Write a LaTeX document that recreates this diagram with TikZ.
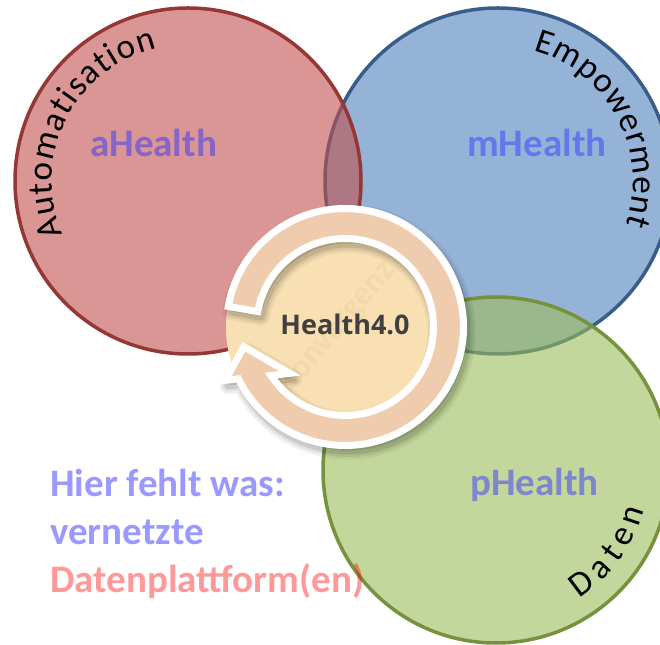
\documentclass[tikz,border=0pt]{standalone}
\usepackage{fontspec}
\newfontfamily\carlito{Carlito}
\newfontfamily\opensansf{Open Sans}
\usetikzlibrary{calc,decorations.text}
\definecolor{redfill}{HTML}{C0504D}
\definecolor{redline}{HTML}{953735}
\definecolor{bluefill}{HTML}{4F81BD}
\definecolor{blueline}{HTML}{385D8A}
\definecolor{greenfill}{HTML}{9BBB59}
\definecolor{greenline}{HTML}{76923C}
\definecolor{diskcol}{HTML}{F8E0B3}
\definecolor{bandcol}{HTML}{F0CCAE}
\definecolor{wmcol}{HTML}{F2D8AB}
\definecolor{acol}{HTML}{8764C8}
\definecolor{mcol}{HTML}{6478EB}
\definecolor{pcol}{HTML}{7D87CD}
\definecolor{hintblue}{HTML}{9999FF}
\definecolor{centertext}{HTML}{404040}
\newcommand\curvefont{\carlito\fontsize{35}{35}\selectfont}
\newcommand\bigfont{\carlito\bfseries\fontsize{39}{40}\selectfont}
\newcommand\ringshape{($(C)+(170:118.5pt)$) arc[start angle=170, end angle=-154, radius=118.5pt]
  -- ($(C)+(204:131pt)$) -- ($(C)+(191:103pt)$) -- ($(C)+(220:72pt)$)
  -- ($(C)+(-146.7:88.5pt)$) arc[start angle=-146.7, end angle=170, radius=88.5pt] -- cycle}
\tikzset{
  bigcircle/.style={circle, inner sep=0pt, minimum size=346pt, line width=3.5pt, fill opacity=0.6},
  fieldlabel/.style={anchor=base west, inner sep=0pt, font=\bigfont},
  curvetext/.style={decorate, decoration={text along path, text={|\curvefont|#1}, text align={fit to path}}}
}
\begin{document}
\begin{tikzpicture}[x=1pt,y=1pt]
\useasboundingbox (0,0) rectangle (660,644);
\clip (0,0) rectangle (660,644);
\coordinate (rc) at (188,463);
\coordinate (bc) at (498,463);
\coordinate (gc) at (496,174);
\coordinate (C) at (345,317);
% big circles
\node[bigcircle, fill=bluefill, draw=blueline] (blue) at (bc) {};
\node[bigcircle, fill=redfill, draw=redline] (red) at (rc) {};
\node[bigcircle, fill=greenfill, draw=greenline] (green) at (gc) {};
% labels inside circles
\node[fieldlabel, text=acol] (ah) at (90,487) {aHealth};
\node[fieldlabel, text=mcol] (mh) at (467,487) {mHealth};
\node[fieldlabel, text=pcol] (ph) at (470,148) {pHealth};
% curved labels
\path[curvetext=Automatisation] ($(rc)+(203:136pt)$) arc[start angle=203, end angle=103, radius=136pt];
\path[curvetext=Empowerment] ($(bc)+(75:135pt)$) arc[start angle=75, end angle=-19, radius=135pt];
\path[curvetext=Daten] ($(gc)+(-57:153pt)$) arc[start angle=-57, end angle=-15, radius=153pt];
% hint text
\node[fieldlabel, text=hintblue] (hint1) at (50,147) {Hier fehlt was:};
\node[fieldlabel, text=hintblue] (hint2) at (50,99) {vernetzte};
\node[fieldlabel, text=red, text opacity=0.4] (hint3) at (50,51) {Datenplattform(en)};
% centre disk
\node[circle, inner sep=0pt, minimum size=238pt, fill=diskcol] (disk) at (C) {};
\node[rotate=50, text=wmcol, font=\carlito\bfseries\fontsize{34}{34}\selectfont] (wm) at (337,316) {Konvergenz};
% shadow of ring
\begin{scope}[transform canvas={shift={(3pt,-5pt)}}]
  \draw[black, opacity=0.05, line width=18pt, line join=round] \ringshape;
  \draw[black, opacity=0.07, line width=13pt, line join=round] \ringshape;
  \fill[black, opacity=0.10] [draw=black, line width=8pt, line join=round] \ringshape;
\end{scope}
% ring with arrow
\draw[fill=bandcol, draw=white, line width=7pt] \ringshape;
\node[anchor=base, inner sep=0pt, text=centertext, font=\opensansf\bfseries\fontsize{27}{27}\selectfont] (h40) at (345,309) {Health4.0};
\end{tikzpicture}
\end{document}
